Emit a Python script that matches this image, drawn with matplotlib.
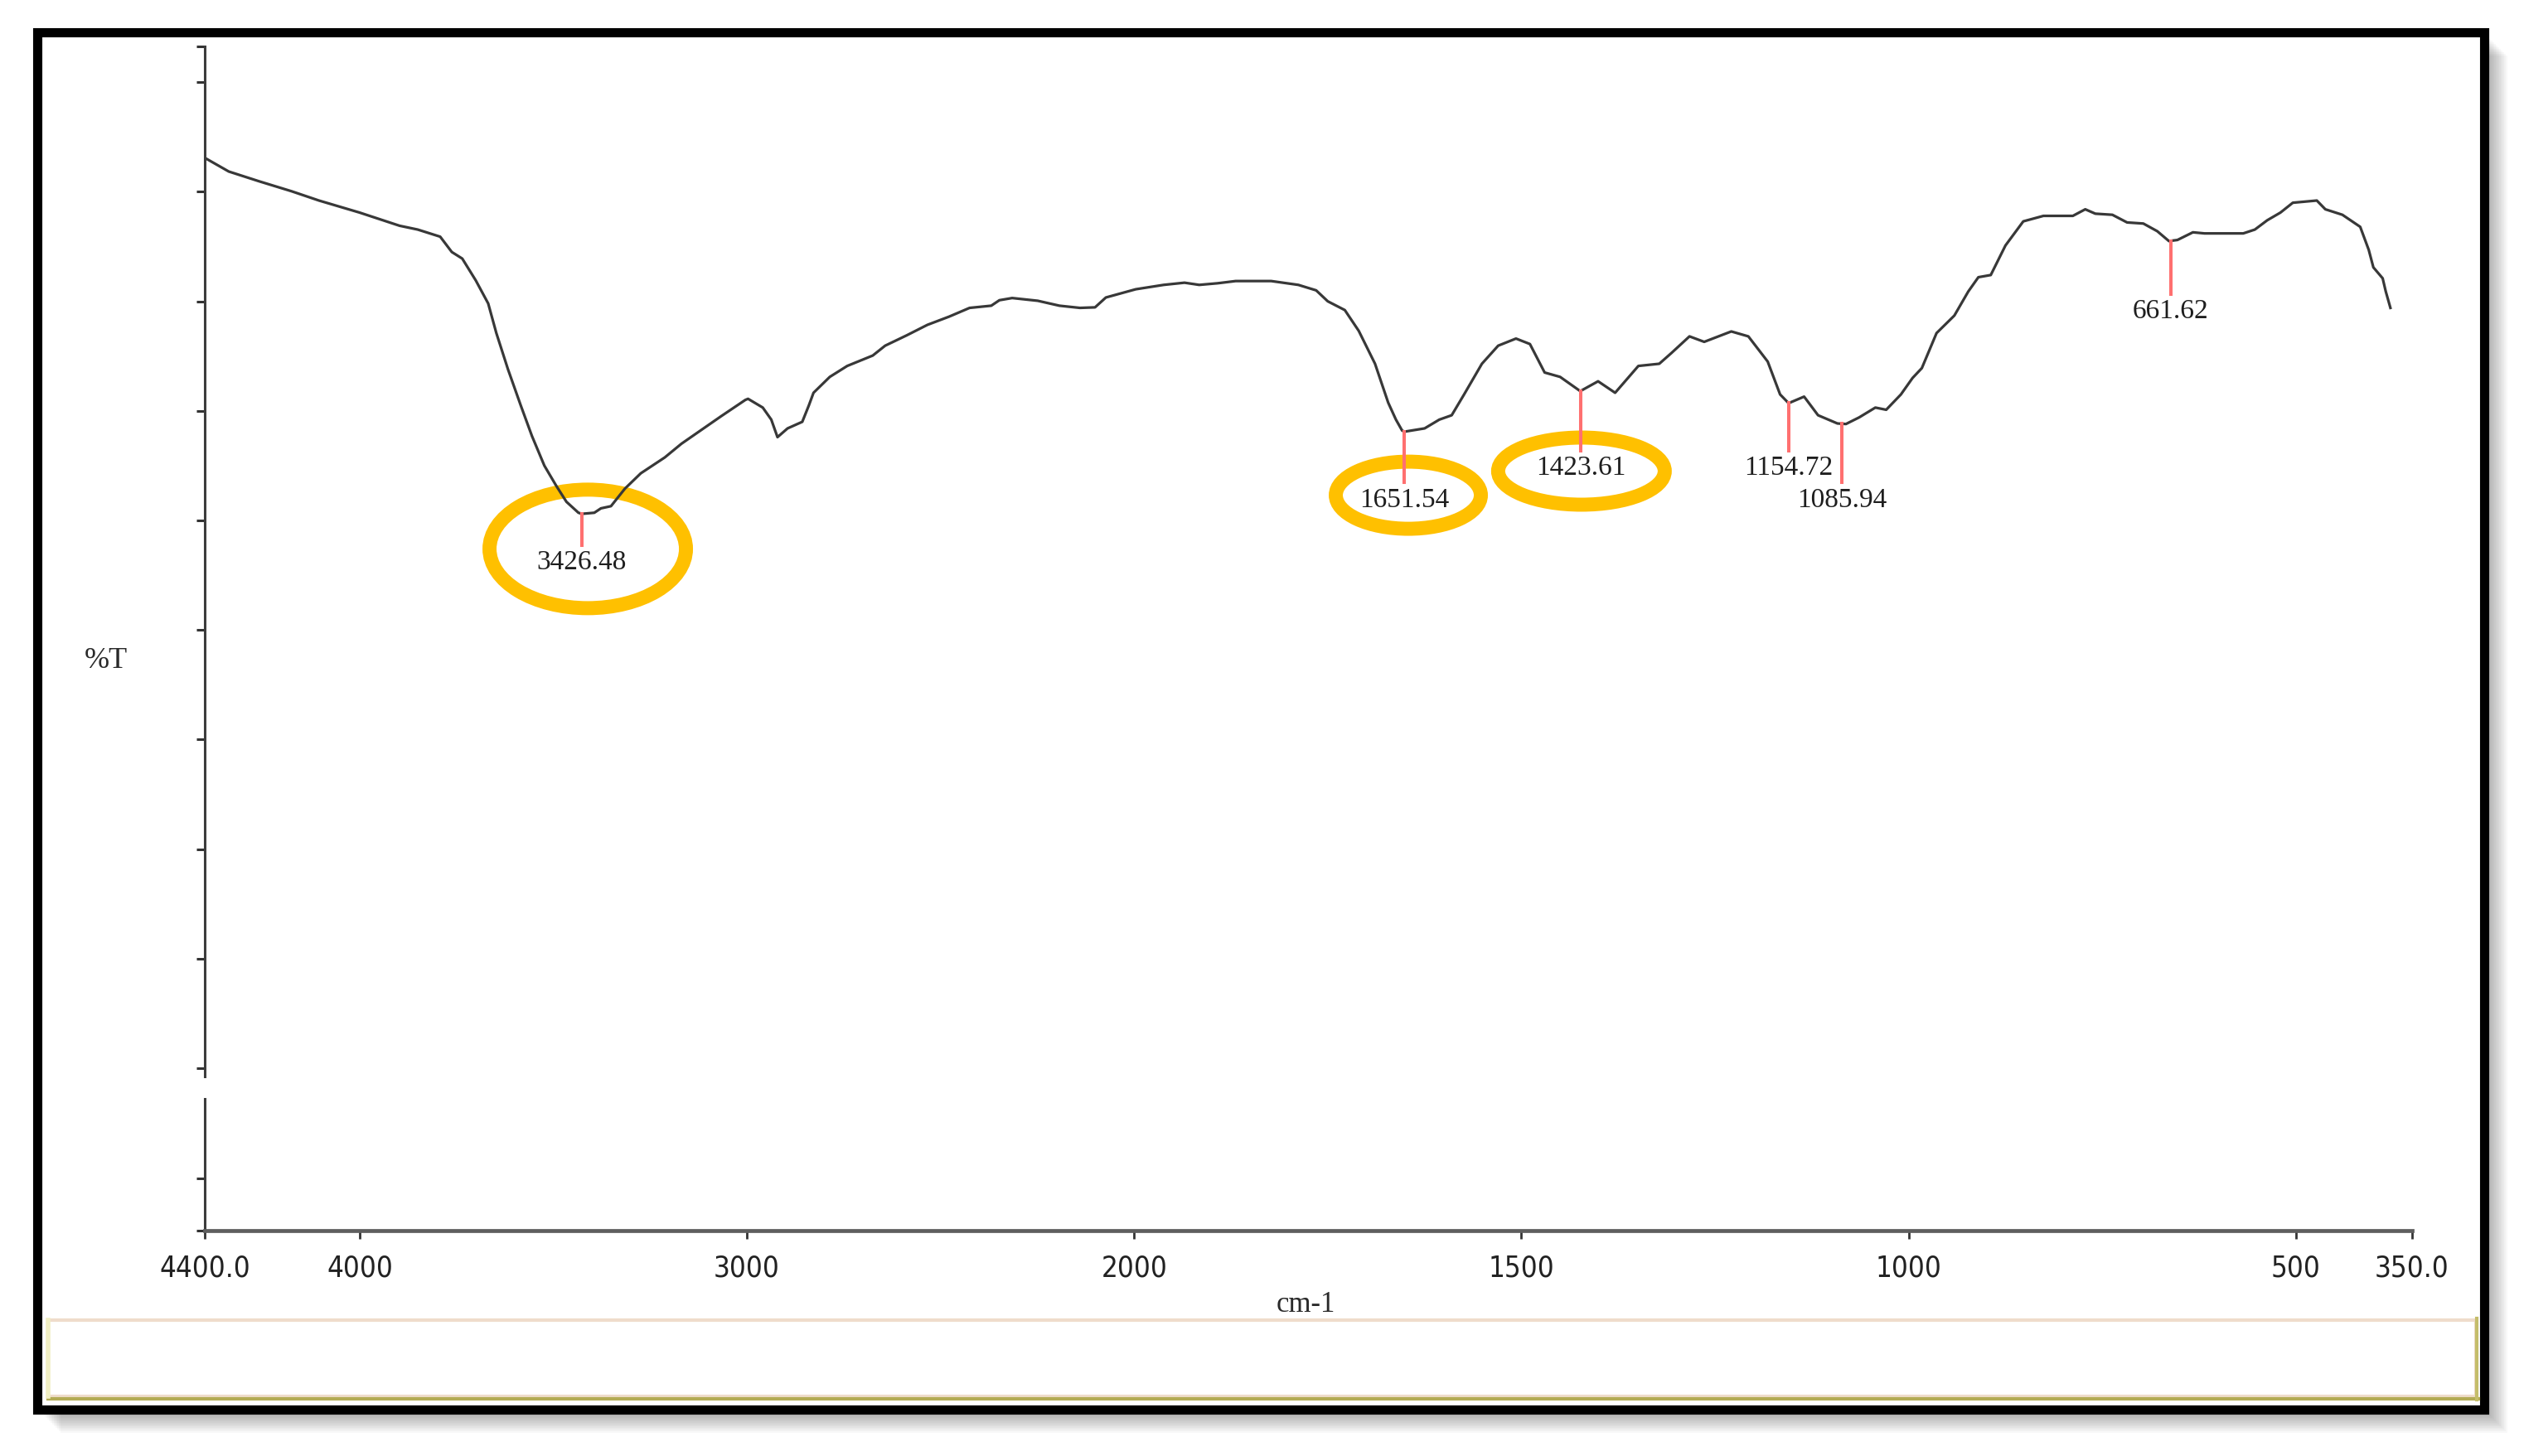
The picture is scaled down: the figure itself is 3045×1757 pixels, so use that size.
import numpy as np
import matplotlib.pyplot as plt
from matplotlib.patches import Rectangle, Ellipse
import matplotlib.transforms as mtransforms

# espectro FTIR: numero de onda (cm-1) y %T
numero_onda = [4400, 4338, 4259, 4176, 4105, 4000, 3897, 3850, 3792, 3762,
               3735, 3700, 3668, 3647, 3617, 3584, 3555, 3523, 3493, 3466,
               3435, 3426, 3394, 3377, 3351, 3315, 3274, 3212, 3169, 3118,
               3067, 3004, 2997, 2959, 2937, 2921, 2895, 2857, 2840, 2828,
               2786, 2741, 2675, 2643, 2587, 2534, 2478, 2425, 2369, 2348,
               2315, 2249, 2193, 2140, 2101, 2073, 1998, 1962, 1935, 1916,
               1892, 1869, 1823, 1788, 1765, 1750, 1728, 1710, 1689, 1672,
               1662, 1654, 1651, 1625, 1606, 1590, 1574, 1551, 1530, 1507,
               1489, 1470, 1450, 1424, 1401, 1379, 1349, 1322, 1306, 1283,
               1264, 1229, 1207, 1182, 1166, 1155, 1135, 1117, 1092, 1081,
               1064, 1043, 1029, 1010, 995, 983, 964, 941, 923, 910,
               894, 875, 852, 826, 788, 772, 759, 737, 718, 697,
               679, 664, 653, 633, 618, 568, 553, 537, 520, 504,
               473, 462, 440, 417, 406, 400, 388, 384, 378]
transmitancia = [83.1, 81.85, 80.95, 80.05, 79.2, 78.1, 76.9, 76.55, 75.9, 74.5,
                 73.9, 71.9, 69.8, 67.1, 63.8, 60.5, 57.7, 55.0, 53.2, 51.7,
                 50.7, 50.6, 50.7, 51.1, 51.3, 52.9, 54.3, 55.75, 57.0, 58.25,
                 59.5, 61.0, 61.1, 60.3, 59.2, 57.6, 58.4, 59.0, 60.5, 61.65,
                 63.1, 64.1, 65.05, 65.95, 66.9, 67.85, 68.6, 69.4, 69.6, 70.1,
                 70.3, 70.05, 69.6, 69.4, 69.45, 70.35, 71.1, 71.5, 71.7, 71.5,
                 71.65, 71.85, 71.85, 71.5, 71.0, 70.0, 69.2, 67.3, 64.3, 60.75,
                 59.2, 58.2, 58.1, 58.4, 59.2, 59.6, 61.5, 64.3, 65.95, 66.6,
                 66.1, 63.5, 63.1, 61.8, 62.7, 61.65, 64.1, 64.3, 65.3, 66.8,
                 66.3, 67.25, 66.8, 64.5, 61.5, 60.7, 61.3, 59.6, 58.85, 58.8,
                 59.4, 60.3, 60.1, 61.5, 63.0, 63.9, 67.1, 68.7, 70.9, 72.2,
                 72.4, 75.1, 77.3, 77.8, 77.8, 78.4, 78.0, 77.9, 77.2, 77.1,
                 76.4, 75.5, 75.6, 76.3, 76.2, 76.2, 76.55, 77.4, 78.1, 79.0,
                 79.2, 78.4, 77.9, 76.8, 74.7, 73.1, 72.1, 70.9, 69.4]

# picos marcados y altura (linea base) de su etiqueta
picos = [3426.48, 1651.54, 1423.61, 1154.72, 1085.94, 661.62]
base_etiqueta = [45.6, 51.3, 54.2, 54.2, 51.3, 68.5]

# picos encerrados con circulo naranja (centro en datos, tamano en pixeles)
circulos_centro = [(3411, 47.4), (1646, 52.3), (1422.5, 54.5)]
circulos_tamano = [(237, 143), (175, 81), (201, 81)]

xticks = [4400, 4000, 3000, 2000, 1500, 1000, 500, 350]
xtick_labels = ['4400.0', '4000', '3000', '2000', '1500', '1000', '500', '350.0']
yticks = [93.27, 90, 80, 70, 60, 50, 40, 30, 20, 10, 0, -10.06, -14.83]

W, H = 3045, 1758
fig = plt.figure(figsize=(W / 100, H / 100), dpi=100)
fig.patch.set_facecolor('white')


def px(x, y):
    # pixeles de la imagen -> fraccion de figura
    return x / W, 1 - y / H


# sombra y marco negro
for k in range(2, 30, 2):
    x0, y0 = px(45 + k, 1702 + k)
    fig.patches.append(Rectangle((x0, y0), (2997 - 45) / W, (1702 - 40) / H,
                                 transform=fig.transFigure, facecolor='black',
                                 edgecolor='none', alpha=0.028, zorder=-3))
x0, y0 = px(45, 1702)
fig.patches.append(Rectangle((x0, y0), (2997 - 45) / W, (1702 - 40) / H,
                             transform=fig.transFigure, facecolor='white',
                             edgecolor='black', linewidth=8, zorder=-2))

# caja inferior vacia
x0, y0 = px(58, 1686)
fig.patches.append(Rectangle((x0, y0), (2987 - 58) / W, (1686 - 1594) / H,
                             transform=fig.transFigure, facecolor='white',
                             edgecolor='#efdccb', linewidth=3, zorder=-1))
fig.add_artist(plt.Line2D([58 / W, 2990 / W], [1 - 1689 / H, 1 - 1689 / H],
                          transform=fig.transFigure, color='#b3ac55', linewidth=3))
fig.add_artist(plt.Line2D([2988 / W, 2988 / W], [1 - 1592 / H, 1 - 1690 / H],
                          transform=fig.transFigure, color='#c4bd6a', linewidth=3))
fig.add_artist(plt.Line2D([58 / W, 58 / W], [1 - 1594 / H, 1 - 1686 / H],
                          transform=fig.transFigure, color='#f1efc4', linewidth=4))

ax = fig.add_axes([247 / W, (H - 1486) / H, (2910 - 247) / W, (1486 - 57) / H])
ax.set_zorder(2)
ax.patch.set_visible(False)


# eje x con cambio de escala en 2000 cm-1
def adelante(x):
    x = np.asarray(x, dtype=float)
    return np.where(x > 2000, 2000 + (x - 2000) / 2, x)


def atras(u):
    u = np.asarray(u, dtype=float)
    return np.where(u > 2000, 2000 + (u - 2000) * 2, u)


ax.set_xscale('function', functions=(adelante, atras))
ax.set_xlim(4400, 350)
ax.set_ylim(-14.83, 93.27)

ax.plot(numero_onda, transmitancia, color='#383838', linewidth=2.3)

# lineas rojas y etiquetas de los picos
wn_asc = np.array(numero_onda)[::-1]
t_asc = np.array(transmitancia)[::-1]
for pico, base in zip(picos, base_etiqueta):
    tope = np.interp(pico, wn_asc, t_asc)
    ax.plot([pico, pico], [tope, base + 2.15], color='#ff7070', linewidth=2.9)
    ax.text(pico, base, f'{pico:.2f}', ha='center', va='baseline',
            family='Liberation Serif', fontsize=24, color='#1e1e1e')

for (cx, cy), (ew, eh) in zip(circulos_centro, circulos_tamano):
    tr = mtransforms.ScaledTranslation(cx, cy, ax.transData)
    ax.add_patch(Ellipse((0, 0), ew, eh, transform=tr, facecolor='none',
                         edgecolor='#ffc000', linewidth=12.2, clip_on=False))

# ejes
for lado in ['top', 'right']:
    ax.spines[lado].set_visible(False)
ax.spines['left'].set_bounds(-0.76, 93.27)
ax.spines['left'].set_color('#3c3c3c')
ax.spines['left'].set_linewidth(2.2)
ax.spines['bottom'].set_color('#5e5e5e')
ax.spines['bottom'].set_linewidth(3.4)
ax.plot([0, 0], [-14.83, -2.8], transform=ax.get_yaxis_transform(),
        color='#3c3c3c', linewidth=2.2, clip_on=False)

ax.set_xticks(xticks, labels=xtick_labels)
ax.minorticks_off()
ax.set_yticks(yticks, labels=[])
ax.tick_params(axis='x', direction='out', length=7, width=2, color='#333333',
               pad=13, labelsize=25, labelcolor='#222222')
ax.tick_params(axis='y', direction='out', length=7, width=2.2, color='#333333')
for lab in ax.get_xticklabels():
    lab.set_family('DejaVu Sans')
    lab.set_fontstretch('condensed')

fig.text(128 / W, 1 - 806 / H, '%T', ha='center', va='baseline',
         family='Liberation Serif', fontsize=26, color='#2a2a2a')
fig.text(1575 / W, 1 - 1583 / H, 'cm-1', ha='center', va='baseline',
         family='Liberation Serif', fontsize=25, color='#2a2a2a')

fig.savefig('out.png', dpi=100)
